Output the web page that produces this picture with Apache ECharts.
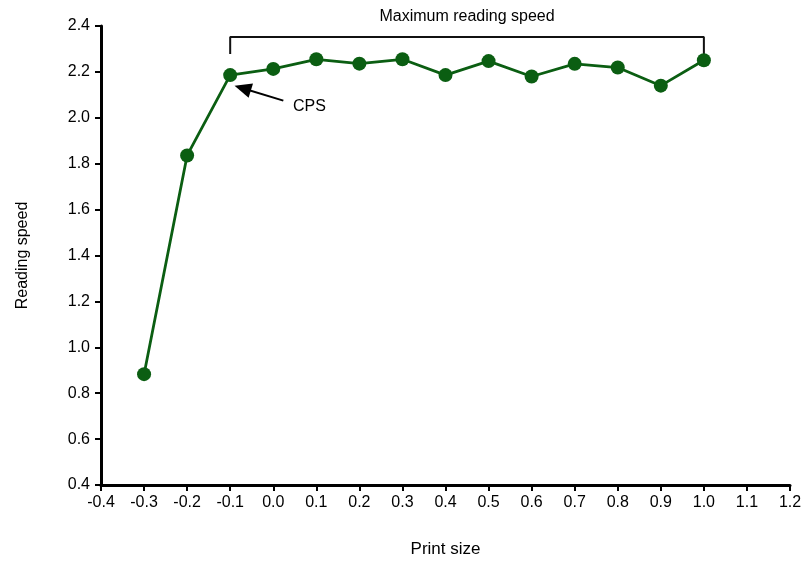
<!DOCTYPE html>
<html>
<head>
<meta charset="utf-8">
<script src="https://cdn.jsdelivr.net/npm/echarts@6/dist/echarts.min.js"></script>
<style>html,body{margin:0;padding:0;background:#fff;overflow:hidden}#c{width:806px;height:561px}</style>
</head>
<body>
<div id="c"></div>
<script>
const printSize = [-0.3, -0.2, -0.1, 0.0, 0.1, 0.2, 0.3, 0.4, 0.5, 0.6, 0.7, 0.8, 0.9, 1.0];
const readingSpeed = [0.883, 1.836, 2.186, 2.213, 2.255, 2.236, 2.255, 2.186, 2.247, 2.180, 2.235, 2.219, 2.140, 2.251];
const bracketTitle = 'Maximum reading speed';
const cpsLabel = 'CPS';
const bracketStart = -0.1, bracketEnd = 1.0, bracketY = 2.352;
const bracketLeftBottom = 2.278, bracketRightBottom = 2.268;
const arrowTail = [0.0234, 2.075], arrowHead = [-0.071, 2.129];
const cpsPos = [0.084, 2.05];
const titleY = 2.443;

const green = '#0b5e12';
const font = '"Liberation Sans", Arial, sans-serif';
const chart = echarts.init(document.getElementById('c'));
const option = {
  animation: false,
  grid: { left: 101, right: 16, top: 26, bottom: 76, containLabel: false, outerBoundsMode: 'none' },
  xAxis: {
    type: 'value', min: -0.4, max: 1.2, interval: 0.1,
    name: 'Print size', nameLocation: 'middle', nameGap: 56,
    nameTextStyle: { fontFamily: font, fontSize: 17, color: '#000' },
    axisLine: { onZero: false, lineStyle: { color: '#000', width: 3 } },
    axisTick: { length: 6, lineStyle: { color: '#000', width: 2 } },
    axisLabel: { fontFamily: font, fontSize: 16, color: '#000', margin: 10,
      formatter: v => v.toFixed(1) },
    splitLine: { show: false }
  },
  yAxis: {
    type: 'value', min: 0.4, max: 2.4, interval: 0.2,
    name: 'Reading speed', nameLocation: 'middle', nameGap: 70, nameRotate: 90,
    nameTextStyle: { fontFamily: font, fontSize: 16, color: '#000' },
    axisLine: { onZero: false, lineStyle: { color: '#000', width: 3 } },
    axisTick: { length: 6, lineStyle: { color: '#000', width: 2 } },
    axisLabel: { fontFamily: font, fontSize: 16, color: '#000', margin: 11,
      formatter: v => v.toFixed(1) },
    splitLine: { show: false }
  },
  series: [
    {
      type: 'line',
      data: [[bracketStart, bracketLeftBottom], [bracketStart, bracketY], [bracketEnd, bracketY], [bracketEnd, bracketRightBottom]],
      symbol: 'none',
      lineStyle: { color: '#111', width: 2 },
      z: 1
    },
    {
      type: 'line',
      data: printSize.map((x, i) => [x, readingSpeed[i]]),
      symbol: 'circle', symbolSize: 14,
      itemStyle: { color: green },
      lineStyle: { color: green, width: 2.8 },
      z: 3,
      markLine: {
        silent: true,
        symbol: ['none', 'triangle'], symbolSize: [15, 17],
        lineStyle: { color: '#000', width: 2, type: 'solid' },
        label: { show: false },
        data: [[{ coord: arrowTail }, { coord: arrowHead }]]
      }
    }
  ]
};
chart.setOption(option);
const tp = chart.convertToPixel({ gridIndex: 0 }, [(bracketStart + bracketEnd) / 2, titleY]);
const cp = chart.convertToPixel({ gridIndex: 0 }, cpsPos);
chart.setOption({
  graphic: [
    { type: 'text', x: tp[0], y: tp[1], style: { text: bracketTitle, font: '16px ' + font, fill: '#000', align: 'center', verticalAlign: 'middle' } },
    { type: 'text', x: cp[0], y: cp[1], style: { text: cpsLabel, font: '16px ' + font, fill: '#000', align: 'center', verticalAlign: 'middle' } }
  ]
});
</script>
</body>
</html>
